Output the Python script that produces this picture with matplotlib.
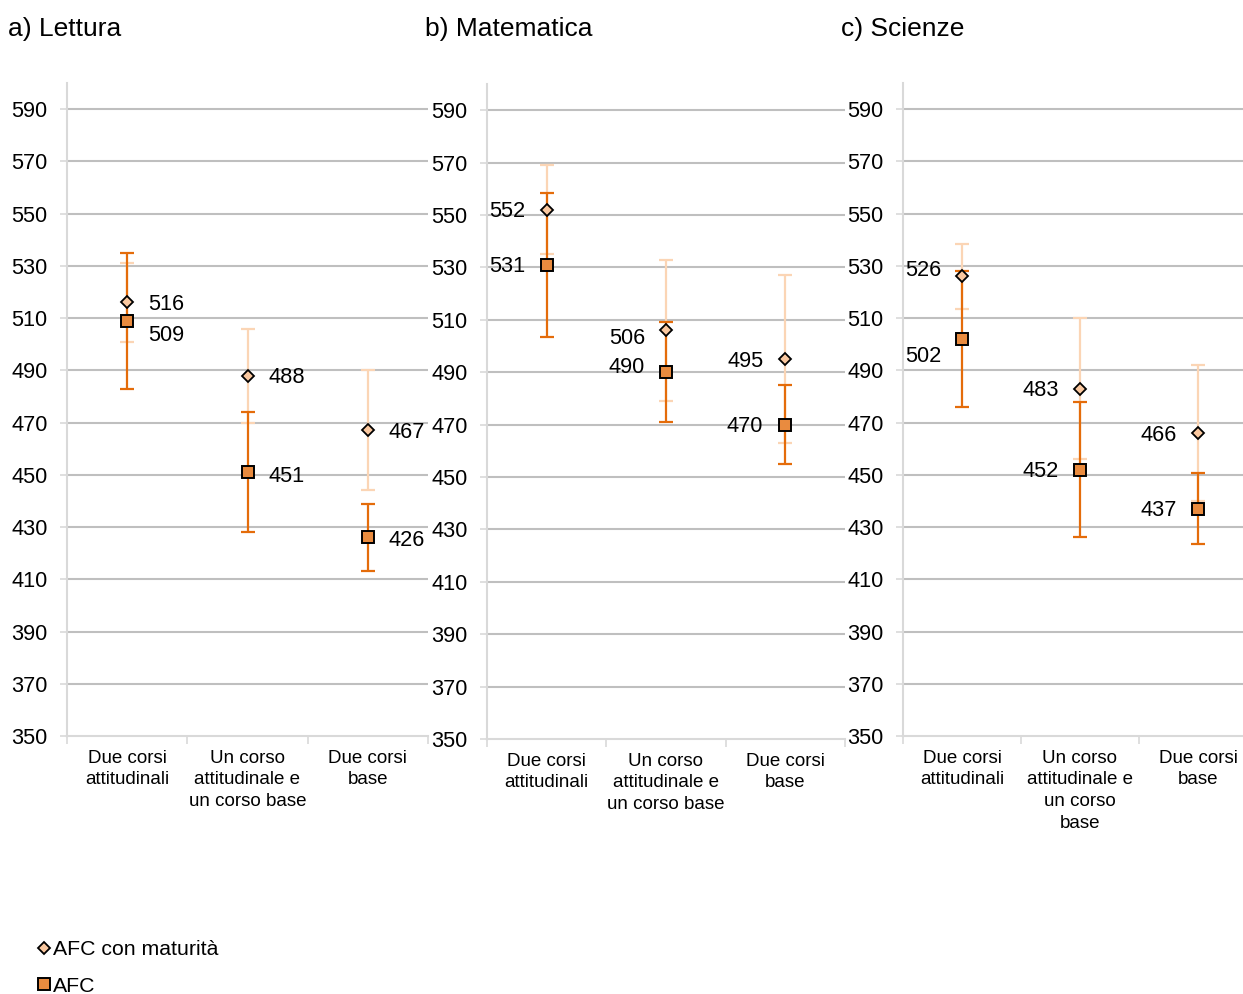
import numpy as np
import matplotlib.pyplot as plt
from matplotlib.lines import Line2D

plt.rcParams['font.family'] = ['Liberation Sans', 'DejaVu Sans']

# data
cat_ab = ["Due corsi\nattitudinali", "Un corso\nattitudinale e\nun corso base", "Due corsi\nbase"]
cat_c = ["Due corsi\nattitudinali", "Un corso\nattitudinale e\nun corso\nbase", "Due corsi\nbase"]

titles = ["a) Lettura", "b) Matematica", "c) Scienze"]

maturita_lettura = [516, 488, 467]
maturita_matematica = [552, 506, 495]
maturita_scienze = [526, 483, 466]
maturita_err_lettura = [15, 18, 23]
maturita_err_matematica = [17, 27, 32]
maturita_err_scienze = [12.5, 27, 26]

afc_lettura = [509, 451, 426]
afc_matematica = [531, 490, 470]
afc_scienze = [502, 452, 437]
afc_err_lettura = [26, 23, 13]
afc_err_matematica = [27.5, 19, 15]
afc_err_scienze = [26, 26, 13.5]

y_ticks = list(range(350, 600, 20))

DARK = '#E46C0A'
LIGHT = '#FBD5B5'
SQ_FILL = '#E98B3F'
DI_FILL = '#FAC8A0'
GRID = '#BFBFBF'

fig = plt.figure(figsize=(12.43, 9.94), dpi=100)

# axes boxes in figure fraction
boxes = [
    [67 / 1243, 1 - 736 / 994, 361 / 1243, 653 / 994],
    [487 / 1243, 1 - 739 / 994, 358 / 1243, 655 / 994],
    [903 / 1243, 1 - 736 / 994, 354 / 1243, 653 / 994],
]
title_x = [8, 425, 841]

panels = [
    (maturita_lettura, maturita_err_lettura, afc_lettura, afc_err_lettura, cat_ab),
    (maturita_matematica, maturita_err_matematica, afc_matematica, afc_err_matematica, cat_ab),
    (maturita_scienze, maturita_err_scienze, afc_scienze, afc_err_scienze, cat_c),
]

# label offsets in pixels (dx, dy) for maturita / afc labels
lab_off = [
    ([(21, -2), (21, -2), (21, -2)], [(21, -15), (21, -4), (21, -3)]),
    ([(-21, -2), (-21, -8), (-22, -2)], [(-21, -2), (-21, 5), (-22, -2)]),
    ([(-21, 6), (-21, -2), (-21, -2)], [(-21, -18), (-21, -2), (-21, -2)]),
]

px = 0.72
for i, (mm, me, am, ae, cats) in enumerate(panels):
    ax = fig.add_axes(boxes[i])
    x = np.arange(3) + 0.5
    ax.set_xlim(0, 3)
    ax.set_ylim(350, 600)
    for yt in y_ticks[1:]:
        ax.axhline(yt, color=GRID, lw=1.5, zorder=0)

    ax.errorbar(x, mm, yerr=me, fmt='none', ecolor=LIGHT, elinewidth=1.6,
                capsize=5, capthick=1.6, zorder=2)
    ax.errorbar(x, am, yerr=ae, fmt='none', ecolor=DARK, elinewidth=1.6,
                capsize=5, capthick=1.6, zorder=3)
    ax.plot(x, am, 's', ms=8, mfc=SQ_FILL, mec='black', mew=1.4, zorder=4)
    ax.plot(x, mm, 'D', ms=6.3, mfc=DI_FILL, mec='black', mew=1.3, zorder=5)

    ha = 'left' if i == 0 else 'right'
    for j in range(3):
        dx, dy = lab_off[i][0][j]
        ax.annotate(str(mm[j]), (x[j], mm[j]), xytext=(dx * px, dy * px),
                    textcoords='offset points', ha=ha, va='center', fontsize=15.7)
        dx, dy = lab_off[i][1][j]
        ax.annotate(str(am[j]), (x[j], am[j]), xytext=(dx * px, dy * px),
                    textcoords='offset points', ha=ha, va='center', fontsize=15.7)

    for s in ['top', 'right']:
        ax.spines[s].set_visible(False)
    ax.spines['left'].set_color('#D9D9D9')
    ax.spines['left'].set_linewidth(1.5)
    ax.spines['bottom'].set_color('#D9D9D9')
    ax.spines['bottom'].set_linewidth(1.5)

    ax.set_yticks(y_ticks)
    ax.tick_params(axis='y', length=5, width=1.2, color='#D9D9D9', pad=9, labelsize=15.7)
    ax.set_xticks([0, 1, 2, 3])
    ax.set_xticklabels([])
    ax.set_xticks(x, minor=True)
    ax.set_xticklabels(cats, minor=True, fontsize=13.5, linespacing=1.35, va='top')
    ax.tick_params(axis='x', which='major', length=6, width=1.2, color='#D9D9D9')
    ax.tick_params(axis='x', which='minor', length=0, pad=10)

    fig.text(title_x[i] / 1243, 1 - 29 / 994, titles[i], fontsize=19, va='center', ha='left')

handles = [
    Line2D([], [], ls='none', marker='D', ms=6.3, mfc=DI_FILL, mec='black', mew=1.3),
    Line2D([], [], ls='none', marker='s', ms=8, mfc=SQ_FILL, mec='black', mew=1.4),
]
fig.legend(handles, ["AFC con maturità", "AFC"], loc='lower left',
           bbox_to_anchor=(0.0155, -0.021), frameon=False, fontsize=15.3,
           handlelength=0.5, handletextpad=0.2, labelspacing=0.82)

fig.savefig('out.png', dpi=100)
